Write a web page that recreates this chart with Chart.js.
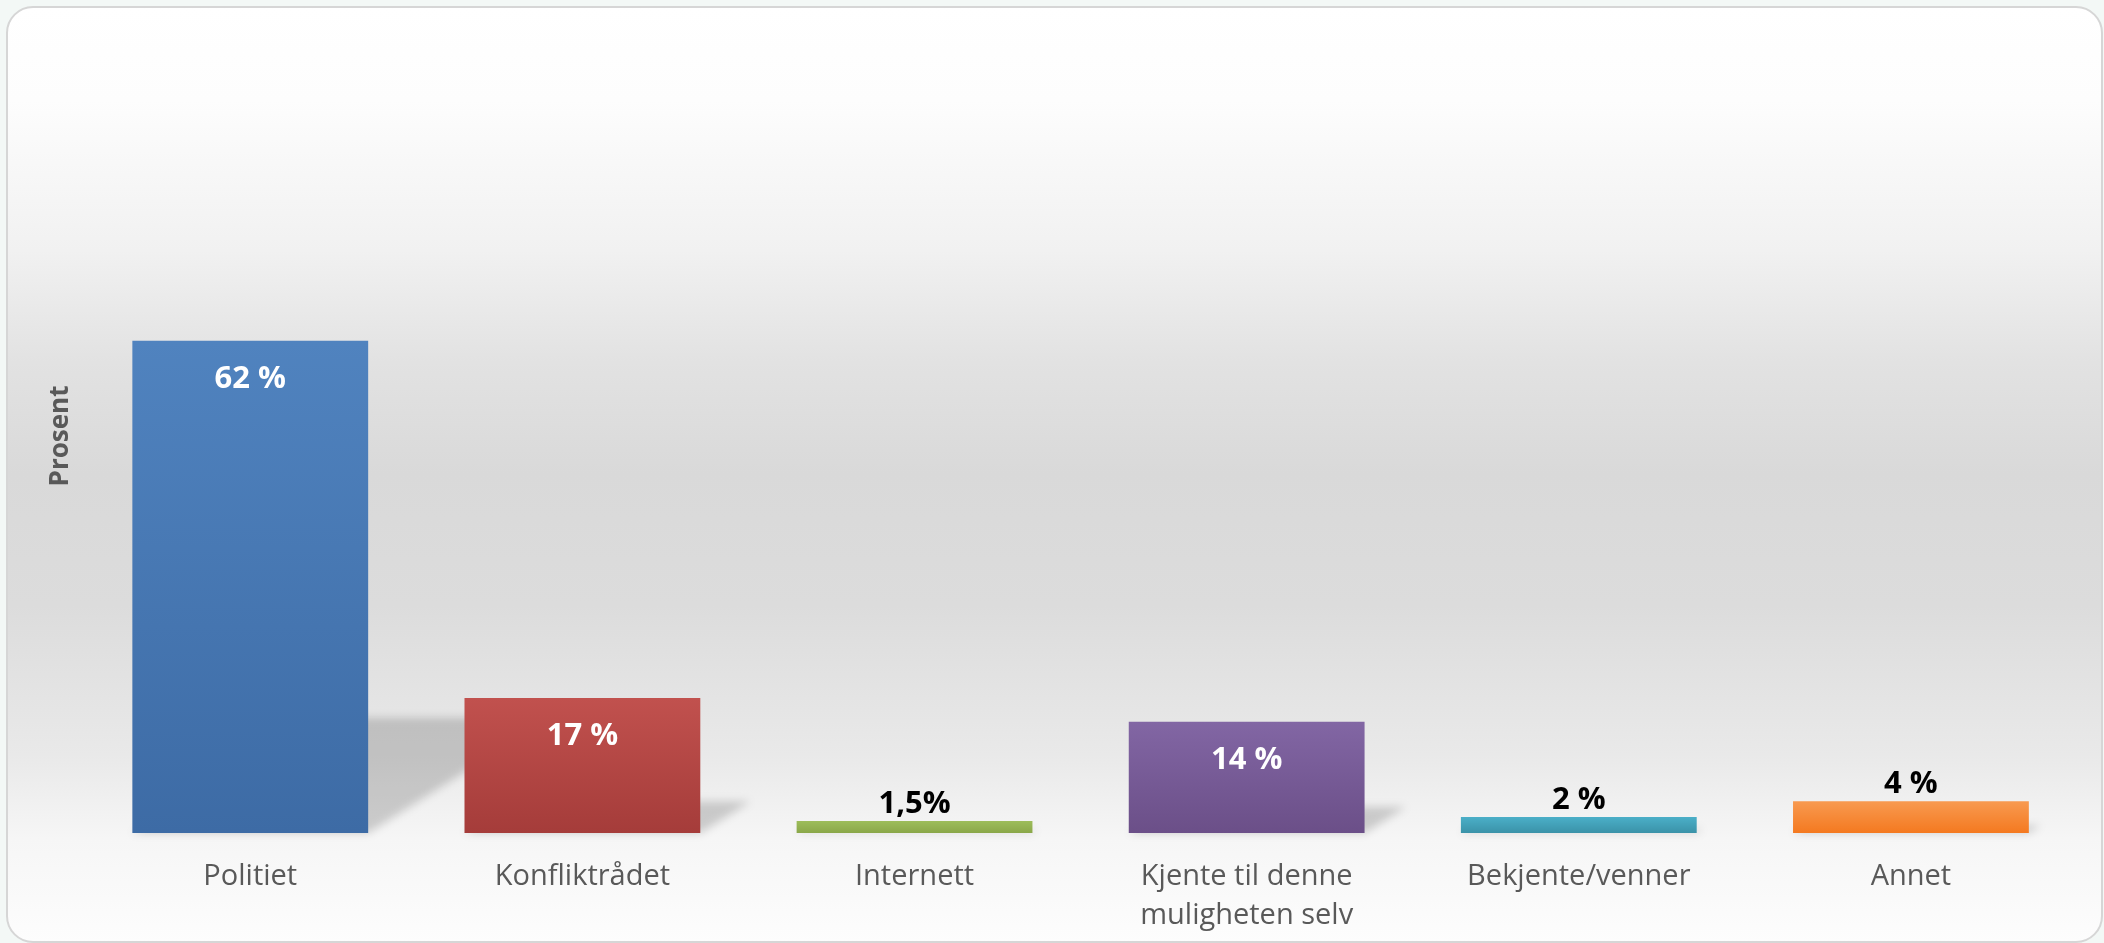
<!DOCTYPE html>
<html>
<head>
<meta charset="utf-8">
<title>Prosent</title>
<script src="https://cdn.jsdelivr.net/npm/chart.js@4.4.1/dist/chart.umd.min.js"></script>
<style>
  html, body { margin: 0; padding: 0; background: #f4f8f6; overflow: hidden; }
  #wrap { width: 2104px; height: 943px; }
</style>
</head>
<body>
<div id="wrap"><canvas id="sourceChart" width="2104" height="943"></canvas></div>
<script>
// categories and shares (percent)
const categories = ['Politiet', 'Konfliktrådet', 'Internett', ['Kjente til denne', 'muligheten selv'], 'Bekjente/venner', 'Annet'];
const shares = [62, 17, 1.5, 14, 2, 4];
const shareLabels = ['62 %', '17 %', '1,5%', '14 %', '2 %', '4 %'];

// top/bottom colour of each bar's vertical gradient
const barTops = ['#5083bf', '#c1514e', '#9dbd5a', '#8266a4', '#4bafc8', '#f89a50'];
const barBottoms = ['#3d6ba5', '#a53c3a', '#8aa749', '#6b4f88', '#3a92a8', '#f47920'];

const FONT = '"Open Sans", "DejaVu Sans", sans-serif';

function barGradient(context) {
    const { chart, dataIndex } = context;
    if (dataIndex === undefined || !chart.chartArea) return barTops[0];
    const y = chart.scales.y;
    const top = y.getPixelForValue(shares[dataIndex]);
    const base = y.getPixelForValue(0);
    const g = chart.ctx.createLinearGradient(0, top, 0, base);
    g.addColorStop(0, barTops[dataIndex]);
    g.addColorStop(1, barBottoms[dataIndex]);
    return g;
}

// rounded card with the grey band behind the plot
const cardBackground = {
    id: 'cardBackground',
    beforeDraw(chart) {
        const { ctx, width, height } = chart;
        ctx.save();
        ctx.fillStyle = '#f3f8f6';
        ctx.fillRect(0, 0, width, height);
        const x = 7, y = 7, w = width - 9, h = height - 8;
        const g = ctx.createLinearGradient(0, y, 0, y + h);
        g.addColorStop(0, '#ffffff');
        g.addColorStop(0.1, '#fdfdfd');
        g.addColorStop(0.26, '#f1f1f1');
        g.addColorStop(0.38, '#e2e2e2');
        g.addColorStop(0.5, '#d9d9d9');
        g.addColorStop(0.64, '#dcdcdc');
        g.addColorStop(0.8, '#e9e9e9');
        g.addColorStop(0.89, '#f6f6f6');
        g.addColorStop(1, '#fdfdfd');
        ctx.beginPath();
        ctx.roundRect(x, y, w, h, 26);
        ctx.fillStyle = g;
        ctx.fill();
        ctx.lineWidth = 2;
        ctx.strokeStyle = '#d6d6d6';
        ctx.stroke();
        ctx.restore();
    }
};

// slanted drop shadow falling to the right of each bar
const barShadow = {
    id: 'barShadow',
    beforeDatasetsDraw(chart) {
        const { ctx } = chart;
        const bars = chart.getDatasetMeta(0).data;
        ctx.save();
        ctx.filter = 'blur(4px)';
        ctx.fillStyle = 'rgba(0, 0, 0, 0.17)';
        bars.forEach(bar => {
            const { x, y, base, width } = bar.getProps(['x', 'y', 'base', 'width'], true);
            const h = base - y;
            const lift = h * 0.234, shift = h * 0.37;
            const left = x - width / 2, right = x + width / 2;
            ctx.beginPath();
            ctx.moveTo(left, base);
            ctx.lineTo(right, base);
            ctx.lineTo(right + shift, base - lift);
            ctx.lineTo(left + shift, base - lift);
            ctx.closePath();
            ctx.fill();
        });
        ctx.restore();
    }
};

// percentage labels: white inside tall bars, black above short ones
const valueLabels = {
    id: 'valueLabels',
    afterDatasetsDraw(chart) {
        const { ctx } = chart;
        const bars = chart.getDatasetMeta(0).data;
        ctx.save();
        ctx.font = 'bold 31px ' + FONT;
        ctx.textAlign = 'center';
        ctx.textBaseline = 'alphabetic';
        bars.forEach((bar, i) => {
            const inside = shares[i] >= 10;
            ctx.fillStyle = inside ? '#ffffff' : '#000000';
            ctx.fillText(shareLabels[i], bar.x, inside ? bar.y + 47 : bar.y - 8);
        });
        ctx.restore();
    }
};

new Chart(document.getElementById('sourceChart'), {
    type: 'bar',
    data: {
        labels: categories,
        datasets: [{
            data: shares,
            backgroundColor: barGradient,
            borderWidth: 0,
            barPercentage: 0.71,
            categoryPercentage: 1
        }]
    },
    options: {
        responsive: false,
        animation: false,
        layout: { padding: { left: 45, right: 27, top: 39, bottom: 10 } },
        plugins: {
            legend: { display: false },
            tooltip: { enabled: false }
        },
        scales: {
            x: {
                grid: { display: false },
                border: { display: false },
                afterFit(scale) { scale.height = 100; },
                ticks: {
                    color: '#595959',
                    font: { family: FONT, size: 29, lineHeight: 1.35 },
                    padding: 16,
                    maxRotation: 0,
                    autoSkip: false
                }
            },
            y: {
                min: 0,
                max: 100,
                grid: { display: false },
                border: { display: false },
                ticks: { display: false },
                title: {
                    display: true,
                    text: 'Prosent',
                    color: '#595959',
                    font: { family: FONT, size: 26, weight: 'bold' },
                    padding: { top: 0, bottom: 0 }
                }
            }
        }
    },
    plugins: [cardBackground, barShadow, valueLabels]
});
</script>
</body>
</html>
